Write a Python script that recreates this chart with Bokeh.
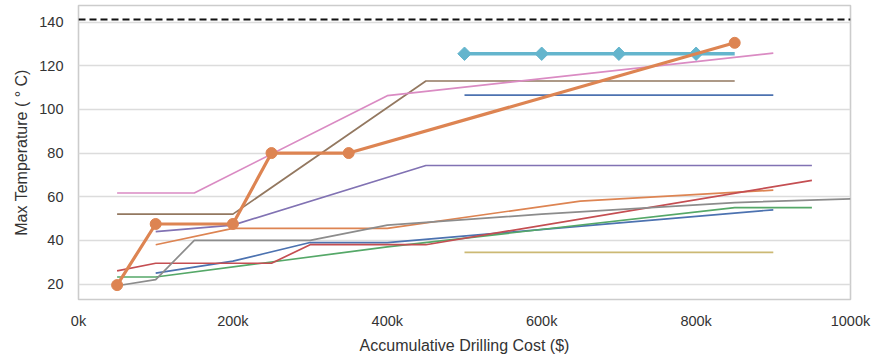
import math

from bokeh.plotting import figure
from bokeh.models import Range1d, FixedTicker, Span
from bokeh.embed import file_html
from bokeh.resources import INLINE

# --- data: cumulative drilling cost ($) vs. max temperature (°C) per well path ---
blue_lo_x = [100e3, 200e3, 300e3, 400e3, 900e3]
blue_lo_y = [25, 30.5, 39, 39, 54]

orange_thin_x = [100e3, 200e3, 400e3, 650e3, 900e3]
orange_thin_y = [38, 45.5, 45.5, 58, 63]

green_x = [50e3, 100e3, 400e3, 850e3, 950e3]
green_y = [23.2, 23.2, 37, 55, 55]

red_x = [50e3, 100e3, 250e3, 300e3, 450e3, 950e3]
red_y = [26, 29.5, 29.5, 38, 38, 67.5]

purple_x = [100e3, 200e3, 450e3, 950e3]
purple_y = [44, 47, 74.3, 74.3]

brown_x = [50e3, 200e3, 450e3, 850e3]
brown_y = [52, 52, 113, 113]

pink_x = [50e3, 150e3, 400e3, 900e3]
pink_y = [61.7, 61.7, 106.3, 125.8]

gray_x = [50e3, 100e3, 150e3, 300e3, 400e3, 600e3, 850e3, 1000e3]
gray_y = [19.2, 22, 40, 40, 47, 52, 57.3, 59]

olive_x = [500e3, 900e3]
olive_y = [34.5, 34.5]

cyan_x = [500e3, 600e3, 700e3, 800e3, 850e3]
cyan_y = [125.5, 125.5, 125.5, 125.5, 125.5]
cyan_marked = 4  # diamonds on the first four nodes

blue_hi_x = [500e3, 900e3]
blue_hi_y = [106.5, 106.5]

best_x = [50e3, 100e3, 200e3, 250e3, 350e3, 850e3]
best_y = [19.5, 47.5, 47.5, 80, 80, 130.5]

temp_limit = 141.2

x_ticks = [0, 200e3, 400e3, 600e3, 800e3, 1000e3]
x_tick_labels = ["0k", "200k", "400k", "600k", "800k", "1000k"]
y_ticks = [20, 40, 60, 80, 100, 120, 140]

FONT = "Liberation Sans"
TEXT = "#333333"

p = figure(
    frame_width=772, frame_height=294,
    min_border_left=78, min_border_right=23, min_border_top=5, min_border_bottom=61,
    x_range=Range1d(0, 1_000_000), y_range=Range1d(12.9, 147.6),
    output_backend="svg", toolbar_location=None,
    background_fill_color="white", border_fill_color="white",
)

p.outline_line_color = "#cccccc"
p.outline_line_width = 1.6
p.xgrid.grid_line_color = None
p.ygrid.grid_line_color = "#dcdcdc"
p.ygrid.grid_line_width = 1.3

p.xaxis.ticker = FixedTicker(ticks=x_ticks)
p.xaxis.major_label_overrides = {t: s for t, s in zip(x_ticks, x_tick_labels)}
p.yaxis.ticker = FixedTicker(ticks=y_ticks)

for ax in (p.xaxis, p.yaxis):
    ax.axis_line_color = None
    ax.major_tick_line_color = None
    ax.minor_tick_line_color = None
    ax.major_tick_out = 0
    ax.major_tick_in = 0
    ax.minor_tick_out = 0
    ax.major_label_text_font = FONT
    ax.major_label_text_font_size = "14.5px"
    ax.major_label_text_color = TEXT
    ax.axis_label_text_font = FONT
    ax.axis_label_text_font_size = "16px"
    ax.axis_label_text_font_style = "normal"
    ax.axis_label_text_color = TEXT

p.xaxis.axis_label = "Accumulative Drilling Cost ($)"
p.yaxis.axis_label = "Max Temperature ( \u00b0 C)"
p.xaxis.major_label_standoff = 13
p.xaxis.axis_label_standoff = 5
p.yaxis.major_label_standoff = 15
p.yaxis.axis_label_standoff = 6

thin = 1.7
p.line(blue_lo_x, blue_lo_y, line_color="#4C72B0", line_width=thin)
p.line(orange_thin_x, orange_thin_y, line_color="#DD8452", line_width=thin)
p.line(green_x, green_y, line_color="#55A868", line_width=thin)
p.line(red_x, red_y, line_color="#C44E52", line_width=thin)
p.line(purple_x, purple_y, line_color="#8172B3", line_width=thin)
p.line(brown_x, brown_y, line_color="#937860", line_width=thin)
p.line(pink_x, pink_y, line_color="#DA8BC3", line_width=thin)
p.line(gray_x, gray_y, line_color="#8C8C8C", line_width=thin)
p.line(olive_x, olive_y, line_color="#CCB974", line_width=thin)

# cyan path: thick line, diamond nodes (a square turned by 45 degrees)
p.line(cyan_x, cyan_y, line_color="#64B5CD", line_width=3.5)
p.scatter(cyan_x[:cyan_marked], cyan_y[:cyan_marked], marker="square", size=9.5,
          angle=math.pi / 4, fill_color="#64B5CD", line_color="#64B5CD")

p.line(blue_hi_x, blue_hi_y, line_color="#4C72B0", line_width=thin)

p.line(best_x, best_y, line_color="#DD8452", line_width=3.2)
p.scatter(best_x, best_y, marker="circle", size=11,
          fill_color="#DD8452", line_color="#DD8452")

p.add_layout(Span(location=temp_limit, dimension="width", line_color="#111111",
                  line_width=2, line_dash="7 4"))

open("out.html", "w").write(file_html(p, INLINE))
